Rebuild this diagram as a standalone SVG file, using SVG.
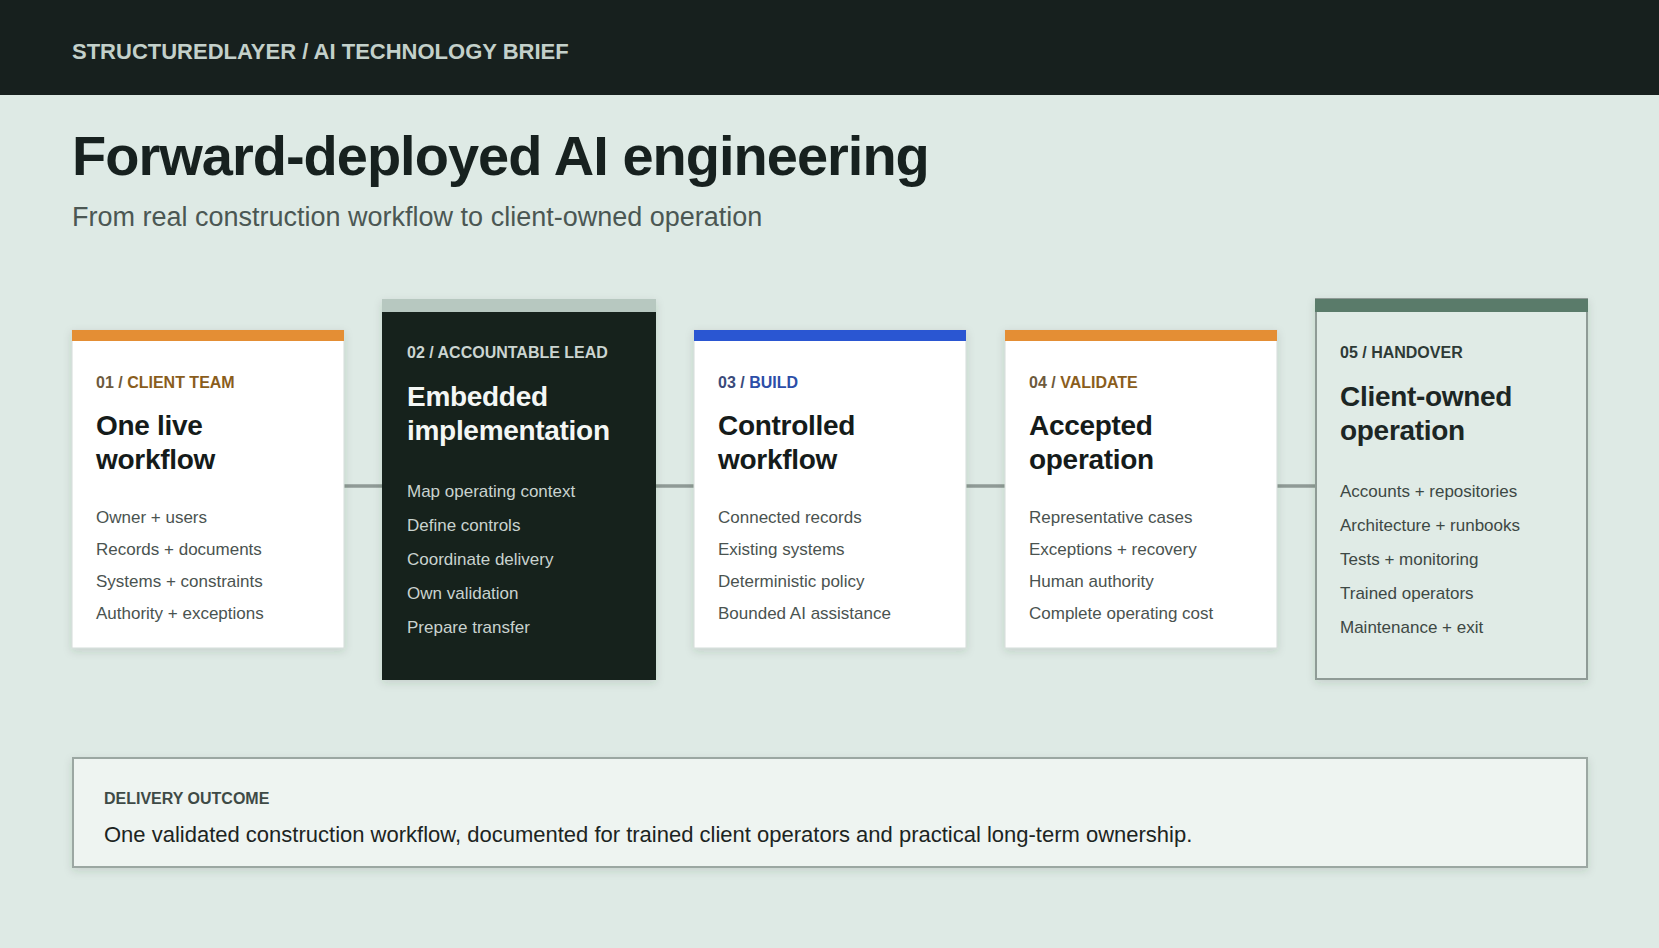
<svg xmlns="http://www.w3.org/2000/svg" width="1659" height="948" viewBox="0 0 1659 948">
<defs>
<filter id="sh" x="-10%" y="-10%" width="120%" height="125%">
<feDropShadow dx="0" dy="3" stdDeviation="4" flood-color="#2a3a34" flood-opacity="0.14"/>
</filter>
<style>
text{font-family:"Liberation Sans",Arial,Helvetica,sans-serif}
.hdr{font-size:22px;font-weight:700;fill:#c3d0ca}
.title{font-size:56px;font-weight:700;fill:#17211f;letter-spacing:-1px}
.sub{font-size:27px;fill:#4b5753}
.lbl{font-size:16px;font-weight:700}
.ct{font-size:28px;font-weight:700;fill:#151b1a;letter-spacing:-0.3px}
.bl{font-size:17px;fill:#4a5350}
.card{fill:#ffffff;stroke:#d3dcd8;stroke-width:1}
.conn line{stroke:#8f9a96;stroke-width:3.5}
.dark .ct{fill:#f4f7f5}
.dark .bl{fill:#c9d3cf}
.dark .lbl{fill:#cbd5d1}
.hand .lbl{fill:#2e3a36}
.hand .ct{fill:#1c2624}
.hand .bl{fill:#3d4844}
.num-o{fill:#6d5a3d}
.txt-o{fill:#8a5d1c}
.num-b{fill:#3b4a7a}
.txt-b{fill:#2c4ea8}
</style>
</defs>
<rect x="0" y="0" width="1659" height="948" fill="#deeae5"/>
<rect x="0" y="0" width="1659" height="95" fill="#17201e"/>
<text class="hdr" x="72" y="59">STRUCTUREDLAYER / AI TECHNOLOGY BRIEF</text>
<text class="title" x="72" y="175">Forward-deployed AI engineering</text>
<text class="sub" x="72" y="226">From real construction workflow to client-owned operation</text>

<g id="connectors" class="conn">
<line x1="344" y1="486" x2="383" y2="486"/>
<line x1="656" y1="486" x2="694" y2="486"/>
<line x1="966" y1="486" x2="1005" y2="486"/>
<line x1="1277" y1="486" x2="1315" y2="486"/>
</g>

<g id="card1">
<rect class="card" x="72" y="330" width="272" height="318" filter="url(#sh)"/>
<rect x="72" y="330" width="272" height="11" fill="#e48e34"/>
<text class="lbl" x="96" y="388"><tspan class="num-o">01 / </tspan><tspan class="txt-o">CLIENT TEAM</tspan></text>
<text class="ct" x="96" y="435">One live</text>
<text class="ct" x="96" y="469">workflow</text>
<text class="bl" x="96" y="523">Owner + users</text>
<text class="bl" x="96" y="555">Records + documents</text>
<text class="bl" x="96" y="587">Systems + constraints</text>
<text class="bl" x="96" y="619">Authority + exceptions</text>
</g>

<g id="card2" class="dark">
<rect x="382" y="299" width="274" height="381" fill="#17201e" filter="url(#sh)"/>
<rect x="382" y="299" width="274" height="13" fill="#b7c8c0"/>
<text class="lbl" x="407" y="358">02 / ACCOUNTABLE LEAD</text>
<text class="ct" x="407" y="406">Embedded</text>
<text class="ct" x="407" y="440">implementation</text>
<text class="bl" x="407" y="497">Map operating context</text>
<text class="bl" x="407" y="531">Define controls</text>
<text class="bl" x="407" y="565">Coordinate delivery</text>
<text class="bl" x="407" y="599">Own validation</text>
<text class="bl" x="407" y="633">Prepare transfer</text>
</g>

<g id="card3">
<rect class="card" x="694" y="330" width="272" height="318" filter="url(#sh)"/>
<rect x="694" y="330" width="272" height="11" fill="#2a56d2"/>
<text class="lbl" x="718" y="388"><tspan class="num-b">03 / </tspan><tspan class="txt-b">BUILD</tspan></text>
<text class="ct" x="718" y="435">Controlled</text>
<text class="ct" x="718" y="469">workflow</text>
<text class="bl" x="718" y="523">Connected records</text>
<text class="bl" x="718" y="555">Existing systems</text>
<text class="bl" x="718" y="587">Deterministic policy</text>
<text class="bl" x="718" y="619">Bounded AI assistance</text>
</g>

<g id="card4">
<rect class="card" x="1005" y="330" width="272" height="318" filter="url(#sh)"/>
<rect x="1005" y="330" width="272" height="11" fill="#e48e34"/>
<text class="lbl" x="1029" y="388"><tspan class="num-o">04 / </tspan><tspan class="txt-o">VALIDATE</tspan></text>
<text class="ct" x="1029" y="435">Accepted</text>
<text class="ct" x="1029" y="469">operation</text>
<text class="bl" x="1029" y="523">Representative cases</text>
<text class="bl" x="1029" y="555">Exceptions + recovery</text>
<text class="bl" x="1029" y="587">Human authority</text>
<text class="bl" x="1029" y="619">Complete operating cost</text>
</g>

<g id="card5" class="hand">
<rect x="1316" y="299" width="271" height="380" fill="#e0ebe6" stroke="#8f9b96" stroke-width="2" filter="url(#sh)"/>
<rect x="1315" y="299" width="273" height="13" fill="#5a7b6a"/>
<text class="lbl" x="1340" y="358">05 / HANDOVER</text>
<text class="ct" x="1340" y="406">Client-owned</text>
<text class="ct" x="1340" y="440">operation</text>
<text class="bl" x="1340" y="497">Accounts + repositories</text>
<text class="bl" x="1340" y="531">Architecture + runbooks</text>
<text class="bl" x="1340" y="565">Tests + monitoring</text>
<text class="bl" x="1340" y="599">Trained operators</text>
<text class="bl" x="1340" y="633">Maintenance + exit</text>
</g>

<g id="outcome">
<rect x="73" y="758" width="1514" height="109" fill="#eef4f1" stroke="#9ba7a2" stroke-width="2" filter="url(#sh)"/>
<text class="lbl" x="104" y="804" fill="#3e4a46">DELIVERY OUTCOME</text>
<text x="104" y="842" font-size="22" fill="#1c2422">One validated construction workflow, documented for trained client operators and practical long-term ownership.</text>
</g>
</svg>
